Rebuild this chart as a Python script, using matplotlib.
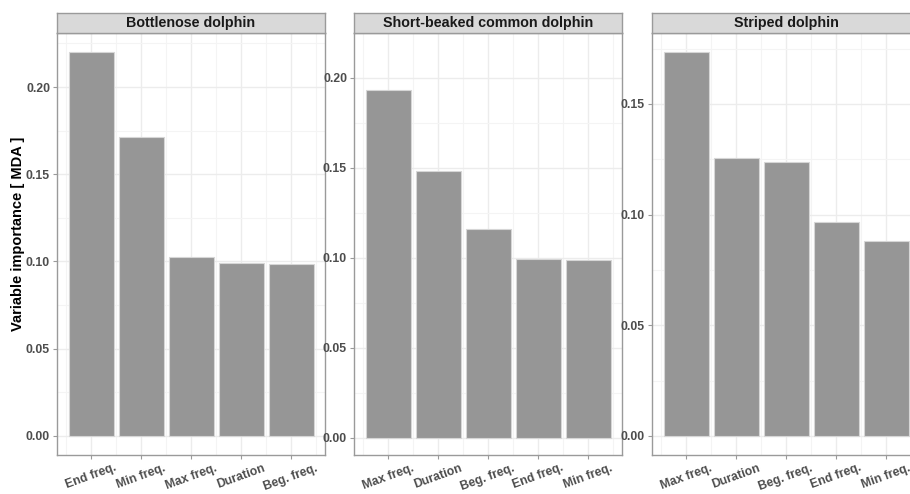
import matplotlib
matplotlib.use("Agg")
import matplotlib.pyplot as plt
import numpy as np

plt.rcParams['font.family'] = ['Liberation Sans', 'DejaVu Sans']

# facet titles
species = ["Bottlenose dolphin", "Short-beaked common dolphin", "Striped dolphin"]

# variables, ordered by importance within each species
vars_bottlenose = ["End freq.", "Min freq.", "Max freq.", "Duration", "Beg. freq."]
mda_bottlenose = [0.220, 0.1714, 0.1027, 0.0992, 0.0986]

vars_common = ["Max freq.", "Duration", "Beg. freq.", "End freq.", "Min freq."]
mda_common = [0.1935, 0.1482, 0.1159, 0.0993, 0.0988]

vars_striped = ["Max freq.", "Duration", "Beg. freq.", "End freq.", "Min freq."]
mda_striped = [0.1734, 0.1257, 0.1236, 0.0966, 0.0882]

y_ticks = [
    [0.00, 0.05, 0.10, 0.15, 0.20],
    [0.00, 0.05, 0.10, 0.15, 0.20],
    [0.00, 0.05, 0.10, 0.15],
]

W, H = 910, 494
fig = plt.figure(figsize=(W / 100, H / 100), dpi=100)

panel_left = [57, 354, 652]   # pixels
panel_w = 268
panel_top, panel_bot = 33, 455
strip_top = 13

border = '#9a9a9a'
grid = '#ececec'
txt = '#4d4d4d'

def px_box(x0, y0, x1, y1):
    return [x0 / W, 1 - y1 / H, (x1 - x0) / W, (y1 - y0) / H]

data = [(vars_bottlenose, mda_bottlenose),
        (vars_common, mda_common),
        (vars_striped, mda_striped)]

for i, (labels, vals) in enumerate(data):
    x0 = panel_left[i]
    ax = fig.add_axes(px_box(x0, panel_top, x0 + panel_w, panel_bot))
    x = np.arange(len(labels))
    ax.bar(x, vals, width=0.9, color='#969696', edgecolor='#d6d6d6',
           linewidth=0.8, zorder=3)
    top = max(vals)
    ax.set_ylim(-0.05 * top, 1.05 * top)
    ax.set_xlim(-0.68, len(labels) - 1 + 0.68)

    ax.set_yticks(y_ticks[i])
    ax.set_yticklabels(["%.2f" % v for v in y_ticks[i]])
    ax.set_yticks([t + 0.025 for t in y_ticks[i]], minor=True)
    ax.set_xticks(x)
    ax.set_xticklabels(labels, rotation=20, ha='center', va='top')
    ax.set_xticks(np.arange(-0.5, len(labels), 1.0), minor=True)

    ax.grid(True, which='major', color=grid, linewidth=1.0, zorder=0)
    ax.grid(True, which='minor', color='#f4f4f4', linewidth=0.8, zorder=0)
    ax.set_axisbelow(True)

    ax.tick_params(axis='both', which='major', length=3, color=border,
                   labelsize=8.8, labelcolor=txt, pad=2)
    ax.tick_params(axis='both', which='minor', length=0)
    for lab in ax.get_xticklabels() + ax.get_yticklabels():
        lab.set_fontweight('bold')
    for sp in ax.spines.values():
        sp.set_color(border)
        sp.set_linewidth(1.0)

    # facet strip
    sax = fig.add_axes(px_box(x0, strip_top, x0 + panel_w, panel_top))
    sax.set_facecolor('#d9d9d9')
    sax.set_xticks([])
    sax.set_yticks([])
    for sp in sax.spines.values():
        sp.set_color(border)
        sp.set_linewidth(1.0)
    sax.text(0.5, 0.48, species[i], ha='center', va='center',
             fontsize=10.3, fontweight='bold', color='#1a1a1a',
             transform=sax.transAxes)

fig.text(18 / W, 1 - 234 / H, "Variable importance [ MDA ]", rotation=90,
         ha='center', va='center', fontsize=10.5, fontweight='bold')

fig.savefig("out.png", dpi=100)
